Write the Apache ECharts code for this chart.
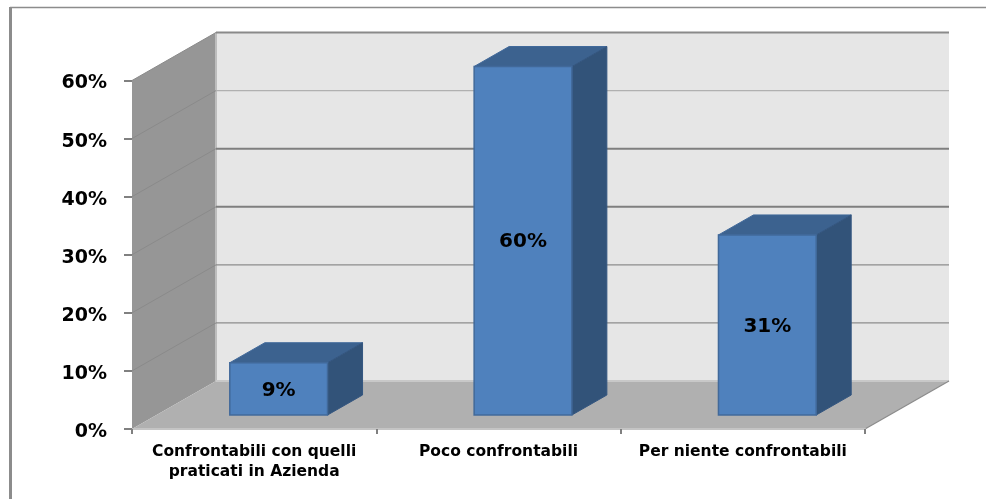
<!DOCTYPE html>
<html><head><meta charset="utf-8">
<style>html,body{margin:0;padding:0;background:#fff}#c{width:986px;height:499px}</style>
<script src="https://cdn.jsdelivr.net/npm/echarts@6/dist/echarts.min.js"></script>
</head><body><div id="c"></div>
<script>
const categories = ['Confrontabili con quelli\npraticati in Azienda', 'Poco confrontabili', 'Per niente confrontabili'];
const values = [9, 60, 31];
const yTicks = [0, 10, 20, 30, 40, 50, 60];
const gridStyle = {0:[0,'#c8c8c8'],10:[1.3,'#8c8c8c'],20:[1.3,'#8c8c8c'],30:[2,'#7f7f7f'],40:[2,'#7f7f7f'],50:[1.2,'#b0b0b0'],60:[2,'#8a8a8a']};

const wallDX = 84, wallDY = -48, barOffX = 24.5, barOffY = -14, barDX = 35, barDY = -20;
const font = '"DejaVu Sans", Verdana, sans-serif';
const poly = (pts, fill, stroke, lw, z2) => ({type:'polygon', shape:{points:pts}, z2:z2||0,
  style:{fill:fill, stroke:stroke||null, lineWidth:lw||0}});
const line = (a, b, col, lw, z2) => ({type:'line', z2:z2||1, shape:{x1:a[0],y1:a[1],x2:b[0],y2:b[1]},
  style:{stroke:col, lineWidth:lw, fill:null}});
const sh = (p, dx, dy) => [p[0]+dx, p[1]+dy];

function renderWalls(params, api) {
  const cs = params.coordSys;
  const l = cs.x, r = cs.x + cs.width;
  const b = api.coord(['Poco confrontabili', 0])[1], t = api.coord(['Poco confrontabili', 60])[1];
  const ch = [
    poly([[l+wallDX,t+wallDY],[r+wallDX,t+wallDY],[r+wallDX,b+wallDY],[l+wallDX,b+wallDY]], '#e6e6e6'),
    poly([[l,t],[l+wallDX,t+wallDY],[l+wallDX,b+wallDY],[l,b]], '#969696'),
    poly([[l,b],[r,b],[r+wallDX,b+wallDY],[l+wallDX,b+wallDY]], '#b0b0b0'),
    line([l+wallDX,t+wallDY],[l+wallDX,b+wallDY],'#bdbdbd',2,1),
    line([r,b],[r+wallDX,b+wallDY],'#8c8c8c',1.2,2)
  ];
  yTicks.forEach(v => {
    const y = api.coord(['Poco confrontabili', v])[1];
    const s = gridStyle[v];
    if (v > 0) {
      ch.push(line([l,y],[l+wallDX,y+wallDY],'#8a8a8a',1,1));
      ch.push(line([l+wallDX,y+wallDY],[r+wallDX,y+wallDY],s[1],s[0],1));
    } else {
      ch.push(line([l+wallDX,y+wallDY],[r+wallDX,y+wallDY],s[1],2,1));
    }
  });
  return {type:'group', children:ch};
}

function renderBar(params, api) {
  const i = api.value(0), v = api.value(1);
  const base = api.coord([i, 0]), top = api.coord([i, v]);
  const w = api.size([1, 0])[0] * 0.4;
  const x0 = base[0] - w/2 + barOffX, x1 = x0 + w;
  const yb = base[1] + barOffY, yt = top[1] + barOffY;
  const tl=[x0,yt], tr=[x1,yt], br=[x1,yb], bl=[x0,yb];
  return {type:'group', children:[
    poly([tl,sh(tl,barDX,barDY),sh(tr,barDX,barDY),tr], '#3c628f', '#41699a', 1, 1),
    poly([tr,sh(tr,barDX,barDY),sh(br,barDX,barDY),br], '#325379', '#345680', 1, 1),
    poly([tl,tr,br,bl], '#4f81bd', '#41699a', 1.5, 2),
    {type:'text', z2:3, x:(x0+x1)/2, y:(yb+yt)/2 + 1.5, style:{text:v+'%', fill:'#000', font:'bold 20px '+font, align:'center', verticalAlign:'middle'}}
  ]};
}

const chart = echarts.init(document.getElementById('c'), null, {renderer:'canvas'});
chart.setOption({
  animation:false,
  backgroundColor:'#fff',
  grid:{left:132, right:121, top:80.5, bottom:70},
  graphic:[
    {type:'line', silent:true, shape:{x1:10,y1:7.5,x2:986,y2:7.5}, style:{stroke:'#8c8c8c',lineWidth:1.5}},
    {type:'line', silent:true, shape:{x1:10.5,y1:7,x2:10.5,y2:499}, style:{stroke:'#8c8c8c',lineWidth:3}}
  ],
  xAxis:{type:'category', data:categories, z:5,
    axisLine:{lineStyle:{color:'#c4c4c4',width:2}},
    axisTick:{show:true, alignWithLabel:false, length:5, lineStyle:{color:'#808080',width:2}},
    axisLabel:{color:'#000', fontFamily:font, fontWeight:'bold', fontSize:15.5, margin:13, lineHeight:20, interval:0}},
  yAxis:{type:'value', min:0, max:60, interval:10, z:5,
    axisLine:{show:false},
    axisTick:{show:true, length:8, lineStyle:{color:'#808080',width:2}},
    splitLine:{show:false},
    axisLabel:{margin:25, formatter:'{a|{value}%}',
      rich:{a:{color:'#000', fontFamily:font, fontWeight:'bold', fontSize:19, padding:[6,0,0,0]}}}},
  series:[
    {type:'custom', name:'walls', z:1, silent:true, clip:false, renderItem:renderWalls, data:[[0]], encode:{x:0}},
    {type:'custom', name:'Valori', z:3, clip:false, renderItem:renderBar,
     data:values.map((v,i)=>[i,v]), encode:{x:0,y:1}}
  ]
});
</script></body></html>
